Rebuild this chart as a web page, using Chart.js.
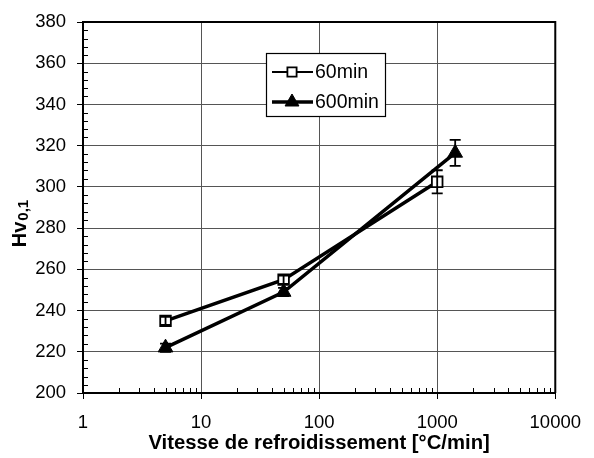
<!DOCTYPE html>
<html><head><meta charset="utf-8">
<script src="https://cdn.jsdelivr.net/npm/chart.js@4/dist/chart.umd.min.js"></script>
<style>html,body{margin:0;padding:0;background:#fff;}canvas{display:block;}</style>
</head><body>
<canvas id="c" width="594" height="458"></canvas>
<script>
// ---- data ----
const coolingRates60 = [5, 50, 1000];
const hardness60 = [235, 255, 302.5];
const err60 = [2, 2, 5.6];
const coolingRates600 = [5, 50, 1420];
const hardness600 = [222, 249, 316.5];
const err600 = [2, 2, 6.3];
const xTickValues = [1, 10, 100, 1000, 10000];
const yTickMin = 200, yTickMax = 380, yTickStep = 20, yMinorStep = 4;
const xMinorMultipliers = [2, 3, 4, 5, 6, 7, 8, 9];
const seriesNames = ['60min', '600min'];
const xTitle = 'Vitesse de refroidissement [°C/min]';
const yTitleMain = 'Hv';
const yTitleSub = '0,1';

const FONT = '"Liberation Sans", Arial, Helvetica, sans-serif';

function drawMarker(ctx, style, x, y, r) {
  ctx.save();
  ctx.strokeStyle = '#000';
  if (style === 'rect') {
    const s = r * Math.SQRT1_2;
    ctx.fillStyle = '#fff';
    ctx.lineWidth = 1.8;
    ctx.beginPath(); ctx.rect(x - s, y - s, 2 * s, 2 * s); ctx.fill(); ctx.stroke();
  } else {
    ctx.fillStyle = '#000';
    ctx.lineWidth = 1;
    ctx.beginPath();
    for (let k = 0; k < 3; k++) {
      const a = k * 2 * Math.PI / 3;
      const px = x + Math.sin(a) * r, py = y - Math.cos(a) * r;
      if (k === 0) ctx.moveTo(px, py); else ctx.lineTo(px, py);
    }
    ctx.closePath(); ctx.fill(); ctx.stroke();
  }
  ctx.restore();
}

const overlay = {
  id: 'overlay',
  afterDatasetsDraw(chart) {
    const ctx = chart.ctx, xs = chart.scales.x, ys = chart.scales.y;
    ctx.save();
    ctx.strokeStyle = '#000';
    ctx.lineWidth = 1.8;
    [[coolingRates60, hardness60, err60], [coolingRates600, hardness600, err600]].forEach(([xv, yv, ev]) => {
      xv.forEach((xval, i) => {
        const px = xs.getPixelForValue(xval);
        const top = ys.getPixelForValue(yv[i] + ev[i]);
        const bot = ys.getPixelForValue(yv[i] - ev[i]);
        ctx.beginPath();
        ctx.moveTo(px, top); ctx.lineTo(px, bot);
        ctx.moveTo(px - 5.5, top); ctx.lineTo(px + 5.5, top);
        ctx.moveTo(px - 5.5, bot); ctx.lineTo(px + 5.5, bot);
        ctx.stroke();
      });
    });
    ctx.restore();
  },
  afterDraw(chart) {
    const ctx = chart.ctx, xs = chart.scales.x, ys = chart.scales.y;
    const a = chart.chartArea;
    ctx.save();
    // frame top/right
    ctx.strokeStyle = '#000';
    ctx.lineWidth = 2;
    ctx.beginPath();
    ctx.moveTo(a.left, a.top); ctx.lineTo(a.right, a.top); ctx.lineTo(a.right, a.bottom);
    ctx.stroke();
    // minor ticks x (inward)
    ctx.lineWidth = 1;
    ctx.beginPath();
    for (let d = 0; d < xTickValues.length - 1; d++) {
      xMinorMultipliers.forEach(m => {
        const px = Math.round(xs.getPixelForValue(xTickValues[d] * m)) + 0.5;
        ctx.moveTo(px, a.bottom); ctx.lineTo(px, a.bottom - 5);
      });
    }
    // minor ticks y (inward)
    for (let v = yTickMin; v <= yTickMax; v += yMinorStep) {
      if ((v - yTickMin) % yTickStep === 0) continue;
      const py = Math.round(ys.getPixelForValue(v)) + 0.5;
      ctx.moveTo(a.left, py); ctx.lineTo(a.left + 5, py);
    }
    ctx.stroke();

    // legend
    const lx = 266, ly = 53, lw = 119, lh = 63;
    ctx.fillStyle = '#fff';
    ctx.fillRect(lx, ly, lw, lh);
    ctx.strokeStyle = '#000';
    ctx.lineWidth = 1.2;
    ctx.strokeRect(lx + 0.5, ly + 0.5, lw, lh);
    const entries = [
      {name: seriesNames[0], style: 'rect', r: 6.5, lw: 2, y: ly + 19},
      {name: seriesNames[1], style: 'triangle', r: 8, lw: 3.5, y: ly + 49}
    ];
    entries.forEach(e => {
      ctx.strokeStyle = '#000';
      ctx.lineWidth = e.lw;
      ctx.beginPath(); ctx.moveTo(lx + 6, e.y); ctx.lineTo(lx + 47, e.y); ctx.stroke();
      drawMarker(ctx, e.style, lx + 26, e.y, e.r);
      ctx.fillStyle = '#000';
      ctx.font = '19.5px ' + FONT;
      ctx.textBaseline = 'middle';
      ctx.textAlign = 'left';
      ctx.fillText(e.name, lx + 49, e.y + 1);
    });

    // y title (rotated, with subscript)
    ctx.save();
    ctx.translate(26, 224);
    ctx.rotate(-Math.PI / 2);
    ctx.fillStyle = '#000';
    ctx.textBaseline = 'alphabetic';
    ctx.textAlign = 'left';
    const mainFont = 'bold 20px ' + FONT, subFont = 'bold 15px ' + FONT;
    ctx.font = mainFont; const w1 = ctx.measureText(yTitleMain).width;
    ctx.font = subFont; const w2 = ctx.measureText(yTitleSub).width;
    const start = -(w1 + w2) / 2;
    ctx.font = mainFont; ctx.fillText(yTitleMain, start, 0);
    ctx.font = subFont; ctx.fillText(yTitleSub, start + w1 + 1, 2);
    ctx.restore();

    ctx.restore();
  }
};

new Chart(document.getElementById('c'), {
  type: 'line',
  data: {
    datasets: [
      {
        label: seriesNames[0],
        data: coolingRates60.map((x, i) => ({x, y: hardness60[i]})),
        borderColor: '#000', borderWidth: 3.5,
        pointStyle: 'rect', pointRadius: 7.5, pointBorderWidth: 1.8,
        pointBackgroundColor: '#fff', pointBorderColor: '#000',
        tension: 0, fill: false
      },
      {
        label: seriesNames[1],
        data: coolingRates600.map((x, i) => ({x, y: hardness600[i]})),
        borderColor: '#000', borderWidth: 3.5,
        pointStyle: 'triangle', pointRadius: 8.5, pointBorderWidth: 1,
        pointBackgroundColor: '#000', pointBorderColor: '#000',
        tension: 0, fill: false
      }
    ]
  },
  options: {
    responsive: false,
    animation: false,
    devicePixelRatio: 1,
    layout: {padding: {left: 0, top: 22, right: 32, bottom: 0}},
    plugins: {legend: {display: false}, tooltip: {enabled: false}},
    scales: {
      x: {
        type: 'logarithmic',
        min: xTickValues[0], max: xTickValues[xTickValues.length - 1],
        afterBuildTicks: s => { s.ticks = xTickValues.map(v => ({value: v, major: true})); },
        afterFit: s => { s.height = 65; },
        ticks: {
          callback: v => String(v),
          color: '#000', font: {family: FONT, size: 18.5},
          padding: 13, maxRotation: 0, autoSkip: false
        },
        grid: {color: '#555', lineWidth: 1, tickColor: '#000', tickLength: 6, drawTicks: true},
        border: {display: true, color: '#000', width: 2},
        title: {display: true, text: xTitle, color: '#000',
          font: {family: FONT, size: 20.3, weight: 'bold'}, padding: {top: 0, bottom: 2}}
      },
      y: {
        type: 'linear',
        min: yTickMin, max: yTickMax,
        afterFit: s => { s.width = 83; },
        ticks: {stepSize: yTickStep, color: '#000', font: {family: FONT, size: 18.5}, padding: 11},
        grid: {color: '#555', lineWidth: 1, tickColor: '#000', tickLength: 6, drawTicks: true},
        border: {display: true, color: '#000', width: 2},
        title: {display: false}
      }
    }
  },
  plugins: [overlay]
});
</script>
</body></html>
